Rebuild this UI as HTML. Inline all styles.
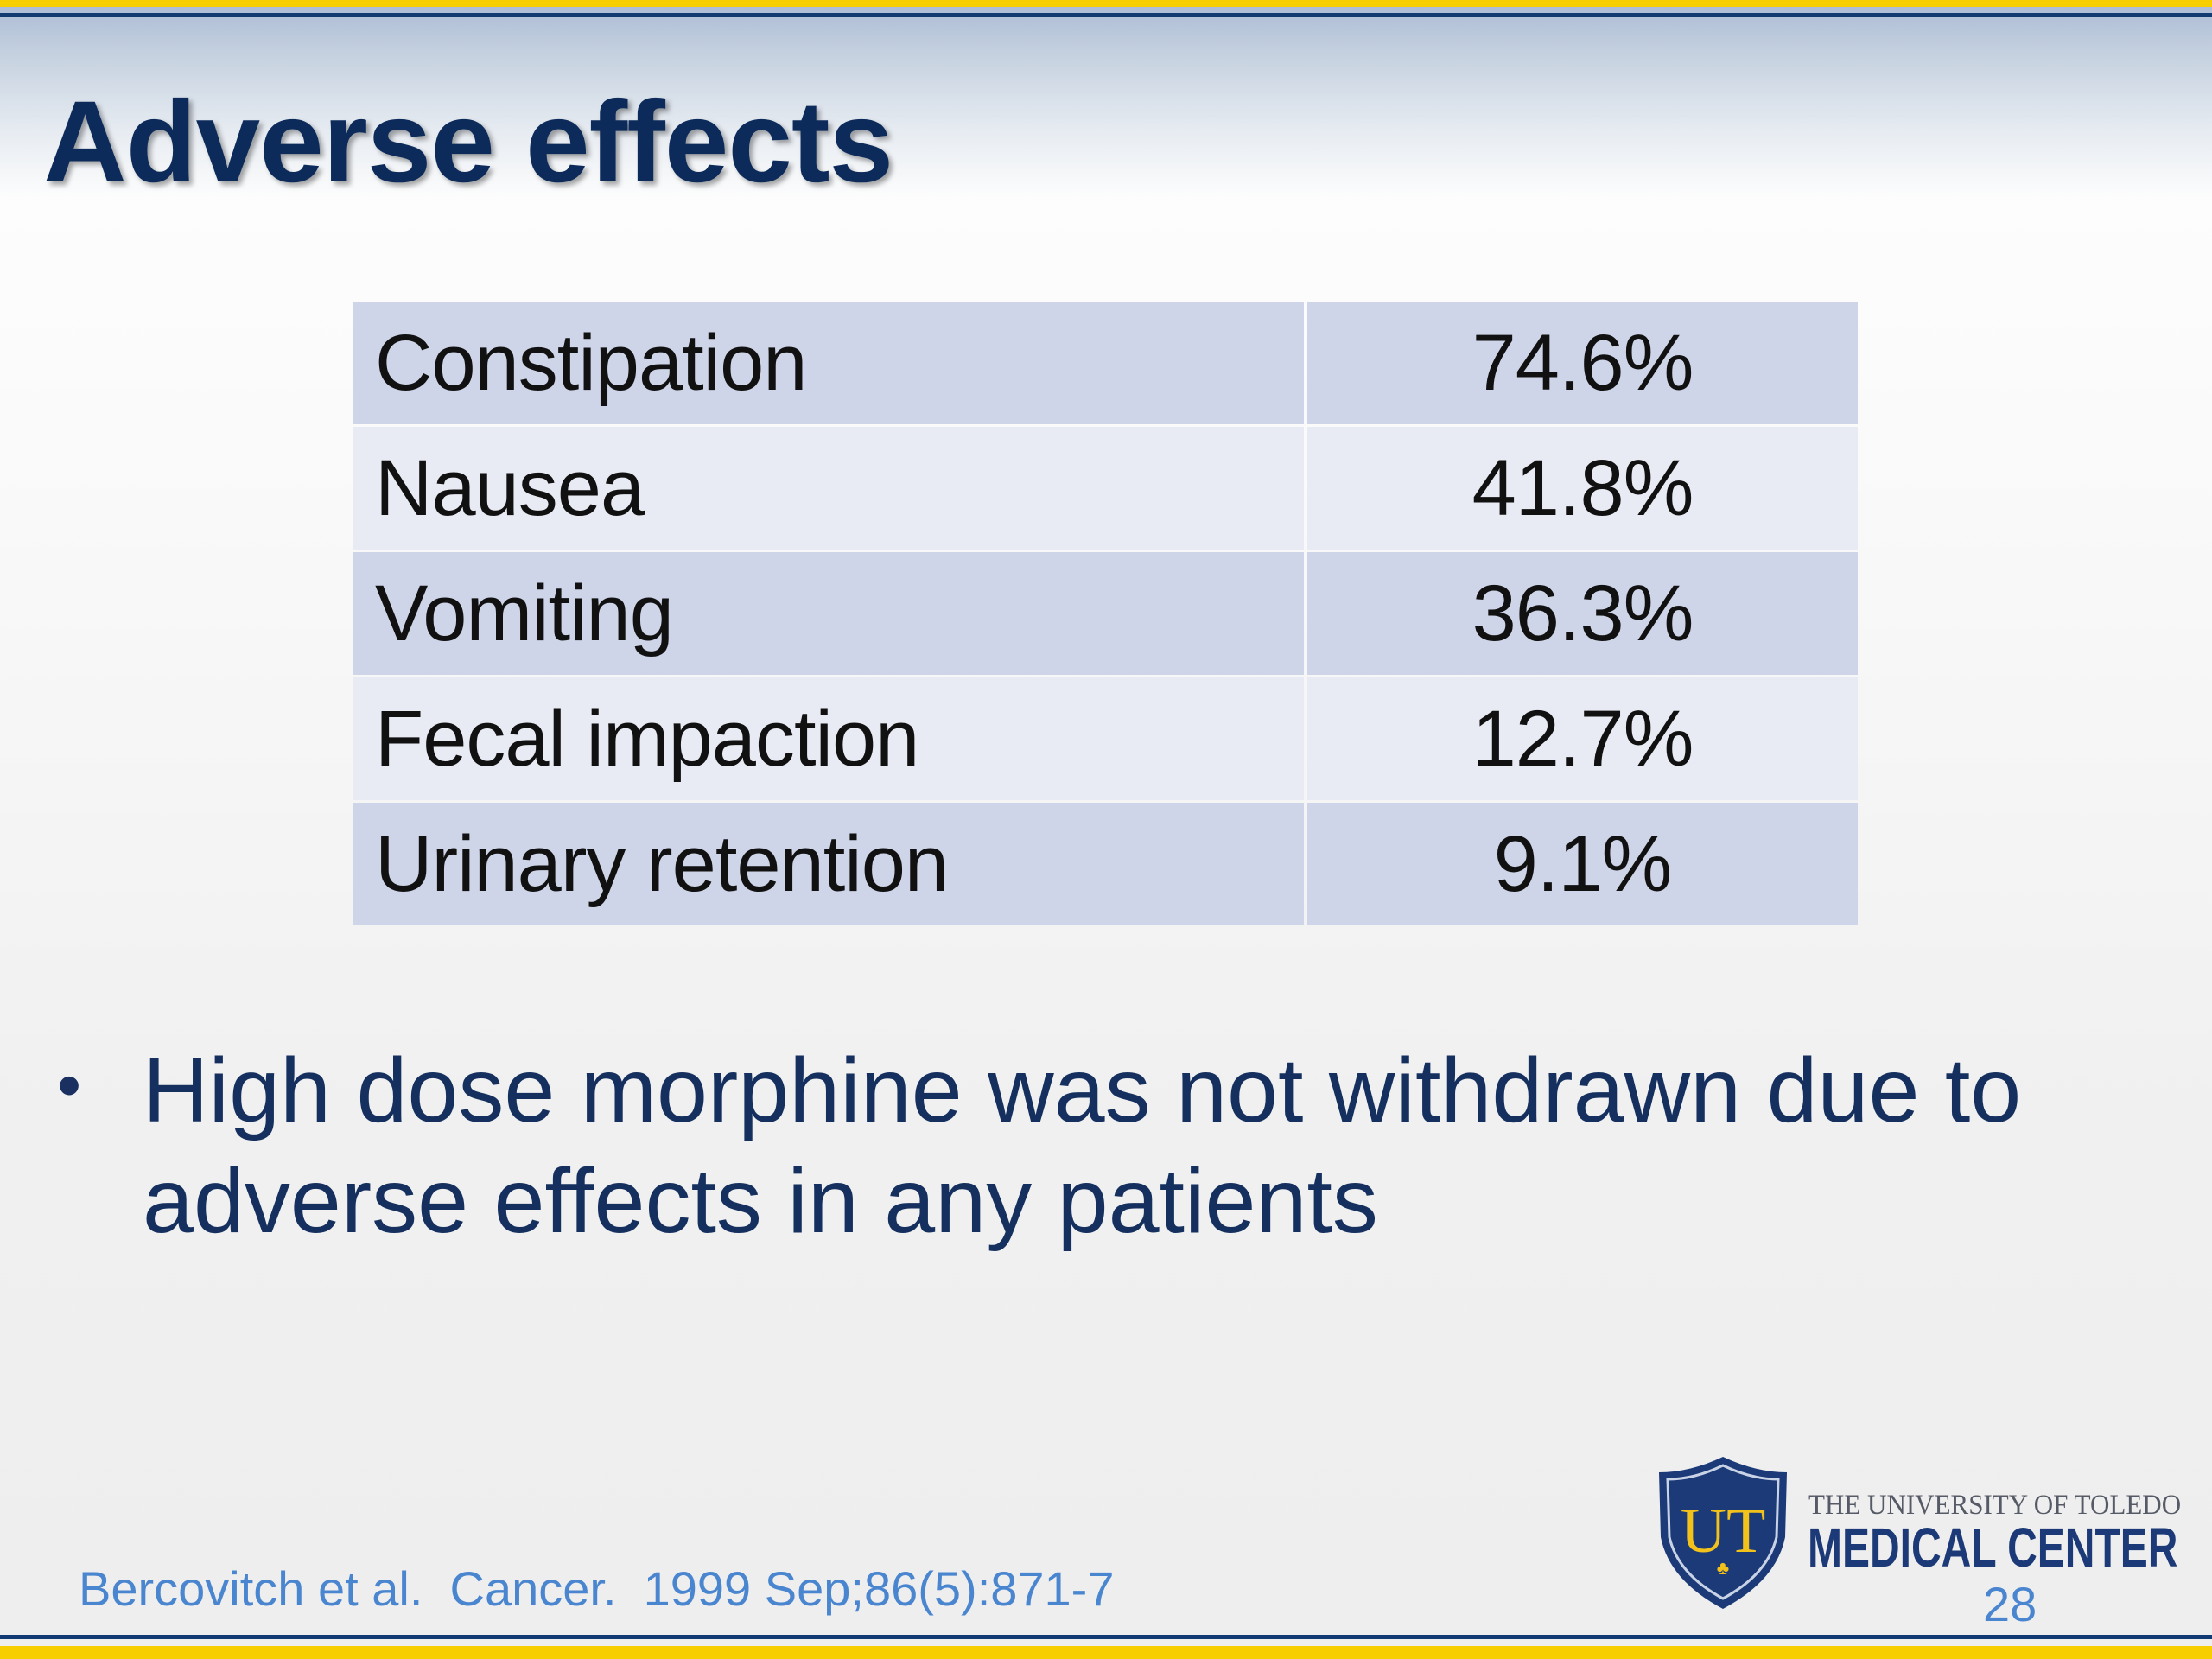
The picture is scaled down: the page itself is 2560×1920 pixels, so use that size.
<!DOCTYPE html>
<html><head><meta charset="utf-8">
<style>
html,body{margin:0;padding:0}
body{width:2560px;height:1920px;position:relative;overflow:hidden;font-family:"Liberation Sans",sans-serif;
background:linear-gradient(to bottom,#a9bad6 0px,#c4d0df 60px,#e6ebf1 150px,#fdfdfd 230px,#f9f9f9 600px,#f0f0f0 1300px,#eeeeee 1920px);}
.abs{position:absolute}
.row{position:absolute;left:408px;width:1742px;height:142px}
.c1,.c2{position:absolute;top:0;height:142px;line-height:142px;font-size:92px;color:#111;letter-spacing:-1px}
.c1{left:0;width:1101px;padding-left:26px;box-sizing:border-box}
.c2{left:1105px;width:637px;text-align:center}
.odd .c1,.odd .c2{background:#cfd5e8}
.even .c1,.even .c2{background:#e8ebf4}
</style></head><body>
<div class="abs" style="left:0;top:0;width:2560px;height:8px;background:#f7cf00"></div>
<div class="abs" style="left:0;top:15px;width:2560px;height:5px;background:#123a72"></div>
<div class="abs" style="left:50px;top:88px;font-size:134px;font-weight:bold;color:#0d2b5a;text-shadow:4px 4px 6px rgba(0,0,0,0.35);letter-spacing:-1px">Adverse effects</div>
<div>
<div class="row odd" style="top:349px"><div class="c1">Constipation</div><div class="c2">74.6%</div></div>
<div class="row even" style="top:494px"><div class="c1">Nausea</div><div class="c2">41.8%</div></div>
<div class="row odd" style="top:639px"><div class="c1">Vomiting</div><div class="c2">36.3%</div></div>
<div class="row even" style="top:784px"><div class="c1">Fecal impaction</div><div class="c2">12.7%</div></div>
<div class="row odd" style="top:929px"><div class="c1">Urinary retention</div><div class="c2">9.1%</div></div>
</div>
<div class="abs" style="left:66px;top:1210px;font-size:80px;color:#1a3060">•</div>
<div class="abs" style="left:165px;top:1198px;font-size:106px;line-height:128px;color:#15305e;width:2300px">High dose morphine was not withdrawn due to<br>adverse effects in any patients</div>
<div class="abs" style="left:91px;top:1806px;font-size:56px;color:#4a86d0">Bercovitch et al.&nbsp; Cancer.&nbsp; 1999 Sep;86(5):871-7</div>
<svg class="abs" style="left:1916px;top:1684px" width="156" height="180" viewBox="0 0 156 180">
<path d="M4 20 Q40 20 78 2 Q116 20 152 20 L150 95 Q140 145 78 178 Q16 145 6 95 Z" fill="#1c3a78"/>
<path d="M14 28 Q45 28 78 12 Q111 28 142 28 L140 95 Q130 138 78 166 Q26 138 16 95 Z" fill="none" stroke="#c9d3e6" stroke-width="3"/>
<text x="78" y="112" text-anchor="middle" font-family="Liberation Serif,serif" font-size="74" fill="#f2c21a">UT</text>
<text x="78" y="138" text-anchor="middle" font-size="22" fill="#f2c21a">♣</text>
</svg>
<div class="abs" style="left:2093px;top:1724px;font-family:'Liberation Serif',serif;font-size:33px;color:#555a66;white-space:nowrap;transform:scaleX(0.94);transform-origin:left top">THE UNIVERSITY OF TOLEDO</div>
<div class="abs" style="left:2092px;top:1754px;font-size:64px;font-weight:bold;color:#1c3a78;white-space:nowrap;transform:scaleX(0.75);transform-origin:left top">MEDICAL CENTER</div>
<div class="abs" style="left:2295px;top:1824px;font-size:56px;color:#4a86d0">28</div>
<div class="abs" style="left:0;top:1892px;width:2560px;height:5px;background:#123a72"></div>
<div class="abs" style="left:0;top:1905px;width:2560px;height:15px;background:#f7cf00"></div>
</body></html>
